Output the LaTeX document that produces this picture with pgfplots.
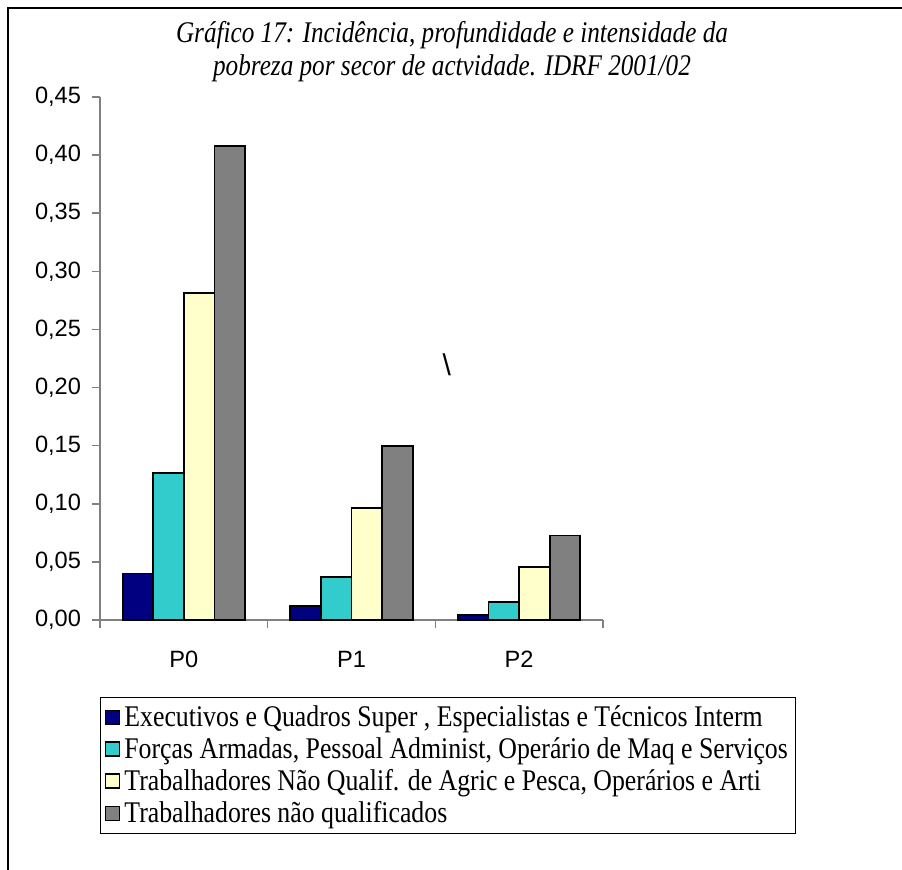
\documentclass[border=0pt]{standalone}
\usepackage{fontspec}
\setmainfont{Liberation Serif}[FakeStretch=0.84]
\newfontfamily\legfont{Liberation Serif}[FakeStretch=0.86]
\newfontfamily\arial{Liberation Sans}
\usepackage{pgfplots}
\pgfplotsset{compat=1.18}
\definecolor{cNavy}{HTML}{000080}
\definecolor{cTurq}{HTML}{33CCCC}
\definecolor{cYel}{HTML}{FFFFCC}
\definecolor{cGray}{HTML}{808080}
\pgfplotsset{
  sqlegend/.style={legend image code/.code={
    \draw[#1, line width=0.9pt] (0pt,-3.5pt) rectangle (7pt,3.5pt);}}
}
\begin{document}
\begin{tikzpicture}
\useasboundingbox (0,0) rectangle (451pt,-435pt);
\draw[line width=0.8pt] (4pt,-435pt) -- (4pt,-4pt) -- (451pt,-4pt);
\node[font=\itshape\fontsize{15}{16.5}\selectfont, align=center] at (226pt,-26pt)
  {Gráfico 17: Incidência, profundidade e intensidade da\\pobreza por secor de actvidade. IDRF 2001/02};
\begin{axis}[
  at={(50pt,-310pt)}, anchor=south west,
  scale only axis, width=251.5pt, height=261.5pt,
  xmin=-0.5, xmax=2.5, ymin=0, ymax=0.45,
  axis x line*=bottom, axis y line*=left,
  axis line style={draw=cGray, line width=0.8pt},
  xtick={0,1,2}, xticklabels={P0,P1,P2},
  major x tick style={draw=none},
  minor xtick={-0.5,0.5,1.5,2.5},
  minor x tick style={draw=cGray, line width=0.8pt},
  ytick={0,0.05,0.10,0.15,0.20,0.25,0.30,0.35,0.40,0.45},
  y tick style={draw=cGray, line width=0.8pt},
  tick align=outside, major tick length=4pt, minor tick length=4pt,
  ticklabel style={font=\arial\fontsize{11.8}{13}\selectfont},
  x tick label style={yshift=-8pt},
  y tick label style={xshift=-2pt},
  /pgf/number format/.cd, use comma, fixed, fixed zerofill, precision=2, assume math mode=true,
  /pgfplots/.cd,
  ybar=0pt, bar width=15.3pt,
  clip=false,
  legend style={at={(0,-0.1472)}, anchor=north west, draw=black, line width=0.6pt,
    font=\legfont\fontsize{15}{16}\selectfont, row sep=0pt, inner sep=2pt,
    legend cell align=left},
  every axis plot/.append style={draw=black, line width=0.9pt},
]
\addplot[fill=cNavy, sqlegend] coordinates {(0,0.040) (1,0.0123) (2,0.0043)};
\addplot[fill=cTurq, sqlegend] coordinates {(0,0.1268) (1,0.0369) (2,0.0157)};
\addplot[fill=cYel, sqlegend] coordinates {(0,0.2813) (1,0.0966) (2,0.0455)};
\addplot[fill=cGray, sqlegend] coordinates {(0,0.4078) (1,0.150) (2,0.0727)};
\legend{{Executivos e Quadros Super , Especialistas e Técnicos Interm},
  {Forças Armadas, Pessoal Administ, Operário de Maq e Serviços},
  {Trabalhadores Não Qualif. de Agric e Pesca, Operários e Arti},
  {Trabalhadores não qualificados}}
\node[font=\arial\fontsize{15}{16}\selectfont] at (axis cs:1.569,0.2194) {\textbackslash};
\end{axis}
\end{tikzpicture}
\end{document}
